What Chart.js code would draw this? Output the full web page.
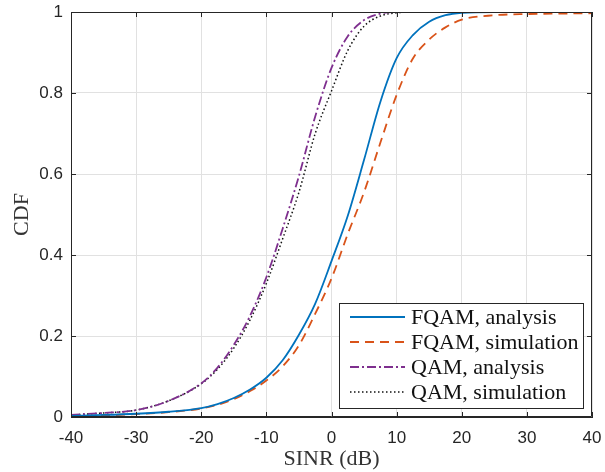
<!DOCTYPE html>
<html>
<head>
<meta charset="utf-8">
<script src="https://cdn.jsdelivr.net/npm/chart.js@4"></script>
<style>
  html, body { margin: 0; padding: 0; background: #fff; }
  #wrap { width: 605px; height: 472px; }
</style>
</head>
<body>
<div id="wrap"><canvas id="cdfChart" width="605" height="472"></canvas></div>
<script>
// SINR sample points (dB)
const sinrValues = [-40, -35, -30, -25, -20, -17.5, -15, -12.5, -10, -7.5, -5, -2.5, 0, 2.5, 5, 7.5, 10, 12.5, 15, 17.5, 20, 25, 30, 35, 40];

// CDF values
const fqamAnalysis   = [0.003, 0.005, 0.008, 0.013, 0.022, 0.032, 0.047, 0.068, 0.097, 0.14, 0.203, 0.28, 0.385, 0.497, 0.635, 0.778, 0.886, 0.943, 0.976, 0.992, 0.998, 1, 1, 1, 1];
const fqamSimulation = [0.002, 0.004, 0.007, 0.012, 0.021, 0.03, 0.044, 0.064, 0.09, 0.125, 0.177, 0.255, 0.342, 0.452, 0.555, 0.677, 0.795, 0.885, 0.932, 0.962, 0.981, 0.992, 0.995, 0.996, 0.997];
const qamAnalysis    = [0.005, 0.01, 0.017, 0.04, 0.083, 0.122, 0.178, 0.25, 0.345, 0.465, 0.595, 0.742, 0.862, 0.94, 0.98, 0.996, 1, 1, 1, 1, 1, 1, 1, 1, 1];
const qamSimulation  = [0.005, 0.01, 0.017, 0.04, 0.082, 0.118, 0.17, 0.24, 0.33, 0.44, 0.555, 0.7, 0.805, 0.905, 0.965, 0.99, 0.998, 1, 1, 1, 1, 1, 1, 1, 1];

const seriesLabels = ['FQAM, analysis', 'FQAM, simulation', 'QAM, analysis', 'QAM, simulation'];

// x tick range and y tick range
const xMin = -40, xMax = 40, xStep = 10;
const yMin = 0, yMax = 1, yStep = 0.2;

function toPoints(ys) {
    return sinrValues.map((x, i) => ({ x: x, y: ys[i] }));
}

const axisColor = '#262626';
const gridColor = '#e1e1e1';

// Draws the MATLAB-style box, inward ticks and the legend
const boxPlugin = {
    id: 'boxPlugin',
    afterDraw(chart) {
        const ctx = chart.ctx;
        const area = chart.chartArea;
        const xs = chart.scales.x;
        const ys = chart.scales.y;
        ctx.save();
        ctx.strokeStyle = axisColor;
        ctx.lineWidth = 1;
        ctx.beginPath();
        ctx.rect(area.left + 0.5, area.top + 0.5, area.right - area.left - 1, area.bottom - area.top - 1);
        ctx.stroke();

        // inward ticks
        const tl = 5;
        ctx.beginPath();
        xs.ticks.forEach(t => {
            const px = Math.round(xs.getPixelForValue(t.value)) + 0.5;
            ctx.moveTo(px, area.bottom); ctx.lineTo(px, area.bottom - tl);
            ctx.moveTo(px, area.top); ctx.lineTo(px, area.top + tl);
        });
        ys.ticks.forEach(t => {
            const py = Math.round(ys.getPixelForValue(t.value)) + 0.5;
            ctx.moveTo(area.left, py); ctx.lineTo(area.left + tl, py);
            ctx.moveTo(area.right, py); ctx.lineTo(area.right - tl, py);
        });
        ctx.stroke();

        // legend
        const bw = 244, bh = 105;
        const bx = area.right - 9 - bw;
        const by = area.bottom - 9 - bh;
        ctx.fillStyle = '#fff';
        ctx.fillRect(bx, by, bw, bh);
        ctx.strokeStyle = axisColor;
        ctx.strokeRect(bx + 0.5, by + 0.5, bw, bh);
        ctx.font = '22px "Liberation Serif", serif';
        ctx.textBaseline = 'middle';
        chart.data.datasets.forEach((ds, i) => {
            const cy = by + 14 + i * 25;
            ctx.strokeStyle = ds.borderColor;
            ctx.lineWidth = ds.borderWidth;
            ctx.setLineDash(ds.borderDash || []);
            ctx.beginPath();
            ctx.moveTo(bx + 11, cy);
            ctx.lineTo(bx + 66, cy);
            ctx.stroke();
            ctx.setLineDash([]);
            ctx.fillStyle = '#111';
            ctx.fillText(ds.label, bx + 72, cy + 1);
        });
        ctx.restore();
    }
};

const ctx = document.getElementById('cdfChart').getContext('2d');
new Chart(ctx, {
    type: 'line',
    data: {
        datasets: [
            { label: seriesLabels[0], data: toPoints(fqamAnalysis), borderColor: '#0072BD', borderWidth: 1.8 },
            { label: seriesLabels[1], data: toPoints(fqamSimulation), borderColor: '#D95319', borderWidth: 1.8, borderDash: [9, 6] },
            { label: seriesLabels[2], data: toPoints(qamAnalysis), borderColor: '#7E2F8E', borderWidth: 1.8, borderDash: [9, 3, 2, 3] },
            { label: seriesLabels[3], data: toPoints(qamSimulation), borderColor: '#111111', borderWidth: 1.5, borderDash: [1.5, 2.5] }
        ]
    },
    options: {
        responsive: false,
        animation: false,
        layout: { autoPadding: false, padding: { left: 0, right: 13, top: 12, bottom: 0 } },
        elements: {
            point: { radius: 0 },
            line: { cubicInterpolationMode: 'monotone', fill: false }
        },
        plugins: {
            legend: { display: false },
            tooltip: { enabled: false }
        },
        scales: {
            x: {
                type: 'linear',
                min: xMin,
                max: xMax,
                ticks: {
                    stepSize: xStep,
                    color: axisColor,
                    font: { family: '"Liberation Sans", Arial, sans-serif', size: 17 },
                    padding: 11,
                    maxRotation: 0
                },
                grid: { color: gridColor, drawTicks: false },
                border: { display: true, color: axisColor },
                title: {
                    display: true,
                    text: 'SINR (dB)',
                    color: '#333',
                    font: { family: '"Liberation Serif", serif', size: 22 },
                    padding: { top: 0, bottom: 0 }
                },
                afterFit(scale) {
                    scale.height = 55;
                    scale.paddingLeft = 0;
                    scale.paddingRight = 0;
                }
            },
            y: {
                min: yMin,
                max: yMax,
                ticks: {
                    stepSize: yStep,
                    color: axisColor,
                    font: { family: '"Liberation Sans", Arial, sans-serif', size: 17 },
                    padding: 8,
                    callback: (v) => String(Number(v.toFixed(1)))
                },
                grid: { color: gridColor, drawTicks: false },
                border: { display: true, color: axisColor },
                title: {
                    display: true,
                    text: 'CDF',
                    color: '#333',
                    font: { family: '"Liberation Serif", serif', size: 22 },
                    padding: { top: 9, bottom: 0 }
                },
                afterFit(scale) {
                    scale.width = 71;
                    scale.paddingTop = 0;
                    scale.paddingBottom = 0;
                }
            }
        }
    },
    plugins: [boxPlugin]
});
</script>
</body>
</html>
